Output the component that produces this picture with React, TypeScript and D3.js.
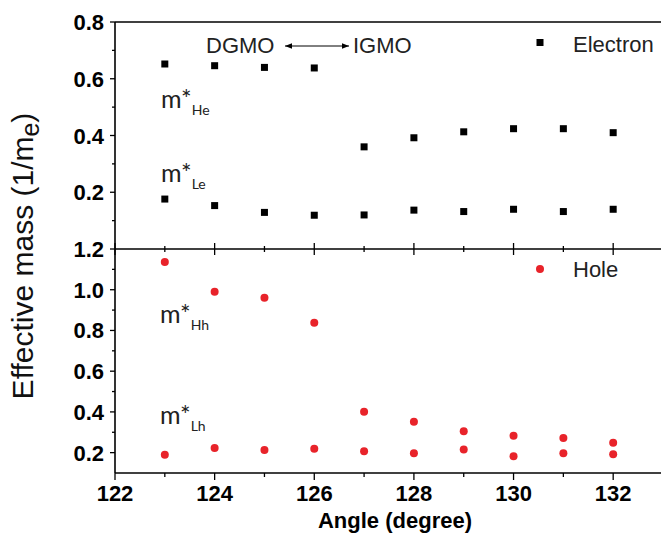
import React from "react";
import {scaleLinear, range} from "d3";

const width = 661;
const height = 534;

const angles = [123, 124, 125, 126, 127, 128, 129, 130, 131, 132];
const electronUpper = [0.652, 0.646, 0.640, 0.638, 0.360, 0.392, 0.413, 0.424, 0.424, 0.410];
const electronLower = [0.176, 0.153, 0.129, 0.119, 0.120, 0.137, 0.132, 0.140, 0.132, 0.140];
const holeUpper = [1.136, 0.990, 0.960, 0.838, 0.401, 0.352, 0.305, 0.283, 0.272, 0.249];
const holeLower = [0.190, 0.223, 0.213, 0.219, 0.207, 0.197, 0.216, 0.182, 0.197, 0.192];

const xTicks = [122, 124, 126, 128, 130, 132];
const topTicks = [0.2, 0.4, 0.6, 0.8];
const bottomTicks = [0.2, 0.4, 0.6, 0.8, 1.0, 1.2];

const left = 115;
const right = 663;
const top = 22;
const mid = 249;
const bottom = 473;

const x = scaleLinear().domain([122, 133]).range([left, right]);
const yTop = scaleLinear().domain([0, 0.8]).range([mid, top]);
const yBot = scaleLinear().domain([0.1, 1.2]).range([bottom, mid]);

const red = "#e8232a";
const tickFont = {fontFamily: "Arial, 'Liberation Sans', sans-serif", fontWeight: 700, fontSize: 22};
const plainFont = "Arial, 'Liberation Sans', sans-serif";
const mFont = "Lato, 'Open Sans', sans-serif";

function MLabel({px, py, sub}: {px: number; py: number; sub: string}) {
    return (
        <text x={px} y={py} fontFamily={mFont} fontSize={25} fill="#222">
            m*
            <tspan fontSize={14} dy={7}>{sub}</tspan>
        </text>
    );
}

function App() {
    const minorX = range(122, 134, 1);
    const minorTop = range(0.1, 0.8, 0.2);
    const minorBot = range(0.3, 1.2, 0.2);

    return (
        <svg width={width} height={height} style={{position: "absolute", left: 0, top: 0}}>
            <defs>
                <marker id="ah" viewBox="0 0 10 10" refX="10" refY="5" markerWidth="7" markerHeight="7"
                        orient="auto-start-reverse">
                    <path d="M0,1 L10,5 L0,9 z" fill="#000"/>
                </marker>
            </defs>

            {/* frame lines */}
            <line x1={left} x2={right} y1={top} y2={top} stroke="#000" strokeWidth={1.6}/>
            <line x1={left} x2={right} y1={mid} y2={mid} stroke="#000" strokeWidth={1.6}/>
            <line x1={left} x2={right} y1={bottom} y2={bottom} stroke="#000" strokeWidth={1.6}/>
            <line x1={left} x2={left} y1={top} y2={bottom} stroke="#000" strokeWidth={1.6}/>

            {/* x ticks on middle and bottom axis */}
            {minorX.map(v => {
                const major = v % 2 === 0;
                return (
                    <g key={"xt" + v}>
                        <line x1={x(v)} x2={x(v)} y1={mid - (major ? 6 : 3)} y2={mid + (major ? 6 : 3)}
                              stroke="#000" strokeWidth={1.3}/>
                        <line x1={x(v)} x2={x(v)} y1={bottom} y2={bottom + (major ? 7 : 4)}
                              stroke="#000" strokeWidth={1.3}/>
                    </g>
                );
            })}
            {xTicks.map(v => (
                <text key={"xl" + v} x={x(v)} y={501} textAnchor="middle" style={tickFont}>{v}</text>
            ))}

            {/* y ticks top panel */}
            {topTicks.map(v => (
                <g key={"yt" + v}>
                    <line x1={left - 5} x2={left} y1={yTop(v)} y2={yTop(v)} stroke="#000" strokeWidth={1.3}/>
                    <text x={104} y={yTop(v) + 8} textAnchor="end" style={tickFont}>{v.toFixed(1)}</text>
                </g>
            ))}
            {minorTop.map(v => (
                <line key={"ytm" + v} x1={left - 3} x2={left} y1={yTop(v)} y2={yTop(v)} stroke="#000" strokeWidth={1.3}/>
            ))}

            {/* y ticks bottom panel */}
            {bottomTicks.map(v => (
                <g key={"yb" + v}>
                    <line x1={left - 5} x2={left} y1={yBot(v)} y2={yBot(v)} stroke="#000" strokeWidth={1.3}/>
                    <text x={104} y={yBot(v) + 8} textAnchor="end" style={tickFont}>{v.toFixed(1)}</text>
                </g>
            ))}
            {minorBot.map(v => (
                <line key={"ybm" + v} x1={left - 3} x2={left} y1={yBot(v)} y2={yBot(v)} stroke="#000" strokeWidth={1.3}/>
            ))}

            {/* electron squares */}
            {angles.map((a, i) => (
                <g key={"e" + a}>
                    <rect x={x(a) - 3.5} y={yTop(electronUpper[i]) - 3.5} width={7} height={7} fill="#000"/>
                    <rect x={x(a) - 3.5} y={yTop(electronLower[i]) - 3.5} width={7} height={7} fill="#000"/>
                </g>
            ))}

            {/* hole circles */}
            {angles.map((a, i) => (
                <g key={"h" + a}>
                    <circle cx={x(a)} cy={yBot(holeUpper[i])} r={4} fill={red}/>
                    <circle cx={x(a)} cy={yBot(holeLower[i])} r={4} fill={red}/>
                </g>
            ))}

            {/* legends */}
            <rect x={536.5} y={39} width={7} height={7} fill="#000"/>
            <text x={573} y={52} fontFamily={plainFont} fontSize={22} fill="#222">Electron</text>
            <circle cx={540} cy={269} r={4} fill={red}/>
            <text x={573} y={277} fontFamily={plainFont} fontSize={22} fill="#222">Hole</text>

            {/* DGMO / IGMO annotation */}
            <text x={206} y={53} fontFamily={plainFont} fontSize={22} fill="#222">DGMO</text>
            <line x1={285} x2={349} y1={46} y2={46} stroke="#000" strokeWidth={1}
                  markerStart="url(#ah)" markerEnd="url(#ah)"/>
            <text x={353} y={53} fontFamily={plainFont} fontSize={22} fill="#222">IGMO</text>

            <MLabel px={161} py={108} sub="He"/>
            <MLabel px={161} py={182} sub="Le"/>
            <MLabel px={160} py={323} sub="Hh"/>
            <MLabel px={160} py={424} sub="Lh"/>

            {/* axis titles */}
            <text transform="translate(33,256) rotate(-90)" textAnchor="middle" fontFamily={plainFont}
                  fontSize={30} fill="#111">
                Effective mass (1/m<tspan fontSize={25} dy={6}>e</tspan><tspan dy={-6}>)</tspan>
            </text>
            <text x={395} y={528} textAnchor="middle" style={tickFont}>Angle (degree)</text>
        </svg>
    );
}

export default App;
